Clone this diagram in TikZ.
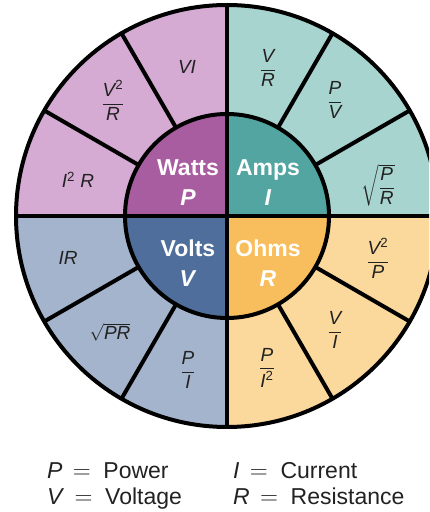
\documentclass[tikz,border=0pt]{standalone}
\usepackage{fontspec}
\setmainfont{Liberation Sans}
\usepackage{amsmath}
\usetikzlibrary{calc}
\definecolor{wattsL}{HTML}{D5AAD3}
\definecolor{wattsD}{HTML}{A95DA1}
\definecolor{ampsL}{HTML}{A7D4CF}
\definecolor{ampsD}{HTML}{52A5A0}
\definecolor{voltsL}{HTML}{A4B4CC}
\definecolor{voltsD}{HTML}{506E9B}
\definecolor{ohmsL}{HTML}{FBD89B}
\definecolor{ohmsD}{HTML}{F8BD5C}
\definecolor{ink}{HTML}{222222}
\newcommand\myfr[2]{$\dfrac{\textit{#1}}{\textit{#2}}$}
\begin{document}
\begin{tikzpicture}[x=1pt,y=1pt,
  rim/.style={line width=4pt, draw=black},
  core/.style={text=white, font=\fontsize{23}{30}\selectfont\bfseries, align=center, inner sep=0pt},
  frm/.style={text=ink, font=\fontsize{19}{22}\selectfont, inner sep=0pt},
  legend/.style={text=ink, font=\fontsize{23}{26}\selectfont, anchor=base west, inner sep=0pt}]
\useasboundingbox (0,0) rectangle (429,512);
\clip (0,0) rectangle (429,512);
\coordinate (c) at (227,296);
\def\Ro{211}
\def\Ri{102}
% outer quadrants
\fill[ampsL]  (c) -- ++(0:\Ro)   arc[start angle=0,  end angle=90,  radius=\Ro] -- cycle;
\fill[wattsL] (c) -- ++(90:\Ro)  arc[start angle=90, end angle=180, radius=\Ro] -- cycle;
\fill[voltsL] (c) -- ++(180:\Ro) arc[start angle=180,end angle=270, radius=\Ro] -- cycle;
\fill[ohmsL]  (c) -- ++(270:\Ro) arc[start angle=270,end angle=360, radius=\Ro] -- cycle;
% inner quadrants
\fill[ampsD]  (c) -- ++(0:\Ri)   arc[start angle=0,  end angle=90,  radius=\Ri] -- cycle;
\fill[wattsD] (c) -- ++(90:\Ri)  arc[start angle=90, end angle=180, radius=\Ri] -- cycle;
\fill[voltsD] (c) -- ++(180:\Ri) arc[start angle=180,end angle=270, radius=\Ri] -- cycle;
\fill[ohmsD]  (c) -- ++(270:\Ri) arc[start angle=270,end angle=360, radius=\Ri] -- cycle;
% lines
\foreach \a in {30,60,120,150,210,240,300,330}
  \draw[rim] ($(c)+(\a:\Ri)$) -- ($(c)+(\a:\Ro)$);
\draw[rim] ($(c)+(180:\Ro)$) -- ($(c)+(0:\Ro)$);
\draw[rim] ($(c)+(90:\Ro)$) -- ($(c)+(270:\Ro)$);
\draw[rim] (c) circle[radius=\Ri];
\draw[rim] (c) circle[radius=\Ro];
% inner labels
\node[core] (watts) at (188,329.5) {Watts\\\textit{P}};
\node[core] (amps)  at (268,329.5) {Amps\\\textit{I}};
\node[core] (volts) at (188,249)   {Volts\\\textit{V}};
\node[core] (ohms)  at (268,249)   {Ohms\\\textit{R}};
% watts formulas
\node[frm] (vi)   at (187,445) {\textit{VI}};
\node[frm] (v2r)  at (113,412) {$\dfrac{\textit{V}^{\textup{2}}}{\textit{R}}$};
\node[frm] (i2r)  at (78,332)  {\textit{I}\textsuperscript{2} \textit{R}};
% amps formulas
\node[frm] (vr)   at (268,444) {\myfr{V}{R}};
\node[frm] (pv)   at (335,412) {\myfr{P}{V}};
\node[frm] (spr)  at (378,327) {$\sqrt{\dfrac{\textit{P}}{\textit{R}}}$};
% volts formulas
\node[frm] (ir)   at (68,254)  {\textit{IR}};
\node[frm] (sqpr) at (110,180) {$\sqrt{\textit{PR}}$};
\node[frm] (pi)   at (188,142) {\myfr{P}{I}};
% ohms formulas
\node[frm] (v2p)  at (378,254) {$\dfrac{\textit{V}^{\textup{2}}}{\textit{P}}$};
\node[frm] (vii)  at (335,182) {\myfr{V}{I}};
\node[frm] (pi2)  at (267,144) {$\dfrac{\textit{P}}{\textit{I}^{\textup{2}}}$};
% legend
\node[legend] (lp) at (47,33) {\textit{P}\, $=$ \ Power};
\node[legend] (lv) at (47,7)  {\textit{V}\, $=$ \ Voltage};
\node[legend] (li) at (233,33) {\textit{I}\, $=$ \ Current};
\node[legend] (lr) at (233,7)  {\textit{R}\, $=$ \ Resistance};
\end{tikzpicture}
\end{document}
